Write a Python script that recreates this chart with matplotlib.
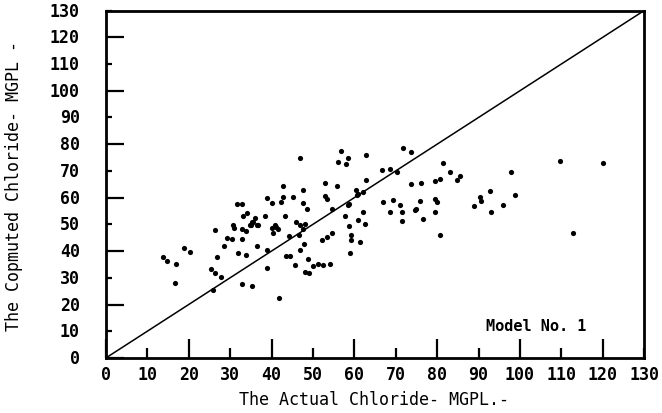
import matplotlib
matplotlib.use("Agg")
import matplotlib.pyplot as plt
import numpy as np

# Actual vs computed chloride (MGPL), Model No. 1
actual = [
    13.8, 14.8, 16.9, 16.8, 18.8, 20.3,
    25.5, 26.3, 27.9, 25.8, 26.9, 26.3, 28.5, 29.2, 30.4, 32.9, 30.6, 30.9,
    32.8, 33.8, 34.8, 33.0, 34.0, 31.6, 32.9, 31.8, 33.8, 32.9, 35.4, 36.6,
    36.4, 35.0, 35.4,
    42.8, 47.7, 52.9, 55.9, 60.4, 60.7, 39.0, 40.0, 42.8, 42.2, 45.1, 47.7,
    48.6, 52.9, 53.5, 54.5, 58.5, 38.4, 36.0, 35.6, 36.8, 40.8, 41.2, 43.2,
    40.0, 44.3, 46.0, 46.9, 47.7, 46.7, 48.1, 52.1, 53.3, 54.7, 57.7, 58.8,
    59.2, 59.2, 60.9, 38.8, 43.6, 44.4, 45.7, 46.9, 47.8, 48.9, 50.1, 51.3,
    52.5, 54.1, 58.9, 38.8, 48.1, 49.1, 41.8, 40.4, 41.6,
    46.9, 56.7, 56.1, 58.5, 58.1,
    62.8, 71.8, 73.8, 66.6, 68.6, 70.4, 62.8, 73.8, 76.2, 79.5, 80.7, 81.5,
    83.1, 84.7, 85.5, 61.0, 62.0, 67.0, 69.4, 71.0, 71.4, 71.4, 75.8, 75.0,
    74.6, 79.5, 80.0, 79.5, 76.5, 68.6, 62.1, 62.6, 80.8, 61.4, 58.8,
    97.8, 109.8, 120.0, 98.8, 92.8, 90.3, 90.7, 88.9, 95.8, 92.9, 112.9,
]
computed = [
    37.7, 36.1, 35.3, 28.2, 41.0, 39.6,
    33.1, 31.7, 30.3, 25.4, 37.7, 47.9, 42.0, 45.0, 44.7, 44.7, 49.9, 48.5,
    48.2, 47.5, 49.6, 53.1, 54.1, 57.7, 57.6, 39.2, 38.4, 27.7, 26.9, 42.0,
    49.9, 49.6, 50.8,
    64.3, 62.9, 65.6, 64.3, 62.9, 60.8, 59.7, 58.0, 60.1, 58.3, 60.1, 58.0,
    55.9, 60.5, 59.4, 55.9, 57.3, 53.1, 52.4, 51.0, 49.9, 49.6, 48.9, 53.1,
    48.5, 45.7, 51.0, 49.6, 48.2, 46.1, 50.3, 44.1, 45.4, 46.8, 53.1, 49.3,
    46.1, 44.1, 51.7, 40.5, 38.1, 38.1, 34.6, 40.5, 42.6, 36.9, 34.3, 35.0,
    34.7, 35.0, 39.2, 33.8, 32.3, 31.7, 22.5, 46.8, 48.2,
    74.7, 77.5, 73.3, 74.7, 72.6,
    76.1, 78.6, 77.2, 70.4, 70.8, 69.6, 66.7, 65.2, 65.6, 66.4, 67.1, 72.9,
    69.5, 66.6, 68.0, 61.5, 62.0, 58.3, 59.1, 57.3, 54.5, 51.3, 58.7, 55.9,
    55.2, 59.4, 58.3, 54.5, 52.1, 54.5, 54.5, 50.3, 46.1, 43.3, 57.7,
    69.6, 73.6, 72.9, 61.0, 62.6, 60.1, 58.7, 56.9, 57.3, 54.5, 46.6,
]

axis_max = 130
major_ticks = list(range(0, 131, 20))
minor_ticks = list(range(10, 131, 20))
tick_labels = [str(v) for v in range(0, 131, 10)]

mono = "DejaVu Sans Mono"

fig = plt.figure(figsize=(6.62, 4.14), dpi=100)
ax = fig.add_axes([0.160, 0.133, 0.813, 0.839])

ax.scatter(actual, computed, s=14, c="black", linewidths=0, zorder=3)
ax.plot([0, axis_max], [0, axis_max], color="black", lw=1.1, zorder=2)

ax.set_xlim(0, axis_max)
ax.set_ylim(0, axis_max)

ax.set_xticks(major_ticks)
ax.set_xticks(minor_ticks, minor=True)
ax.set_yticks(major_ticks)
ax.set_yticks(minor_ticks, minor=True)
ax.set_xticklabels([])
ax.set_yticklabels([])

ax.tick_params(axis="x", which="major", direction="in", length=14, width=1.6)
ax.tick_params(axis="x", which="minor", direction="in", length=7, width=1.6)
ax.tick_params(axis="y", which="major", direction="in", length=13, width=1.6)
ax.tick_params(axis="y", which="minor", direction="in", length=4.5, width=1.6)

for sp in ax.spines.values():
    sp.set_linewidth(2.0)

# tick labels every 10 units, drawn in a blocky monospace face
for v, lab in zip(range(0, 131, 10), tick_labels):
    ax.text(v, -2.5, lab, transform=ax.transData, ha="center", va="top",
            fontsize=12, fontweight="bold", family=mono, clip_on=False)
    ax.text(-6.3, v, lab, transform=ax.transData, ha="right", va="center",
            fontsize=12, fontweight="bold", family=mono, clip_on=False)

ax.text(104, 12, "Model No. 1", ha="center", va="center",
        fontsize=11, fontweight="bold", family=mono)

fig.text(0.565, 0.034, "The Actual Chloride- MGPL.-", ha="center",
         va="center", fontsize=12, family=mono)
fig.text(0.021, 0.55, "The Copmuted Chloride- MGPL -", ha="center",
         va="center", rotation=90, fontsize=12, family=mono)

fig.savefig("out.png", dpi=100)
